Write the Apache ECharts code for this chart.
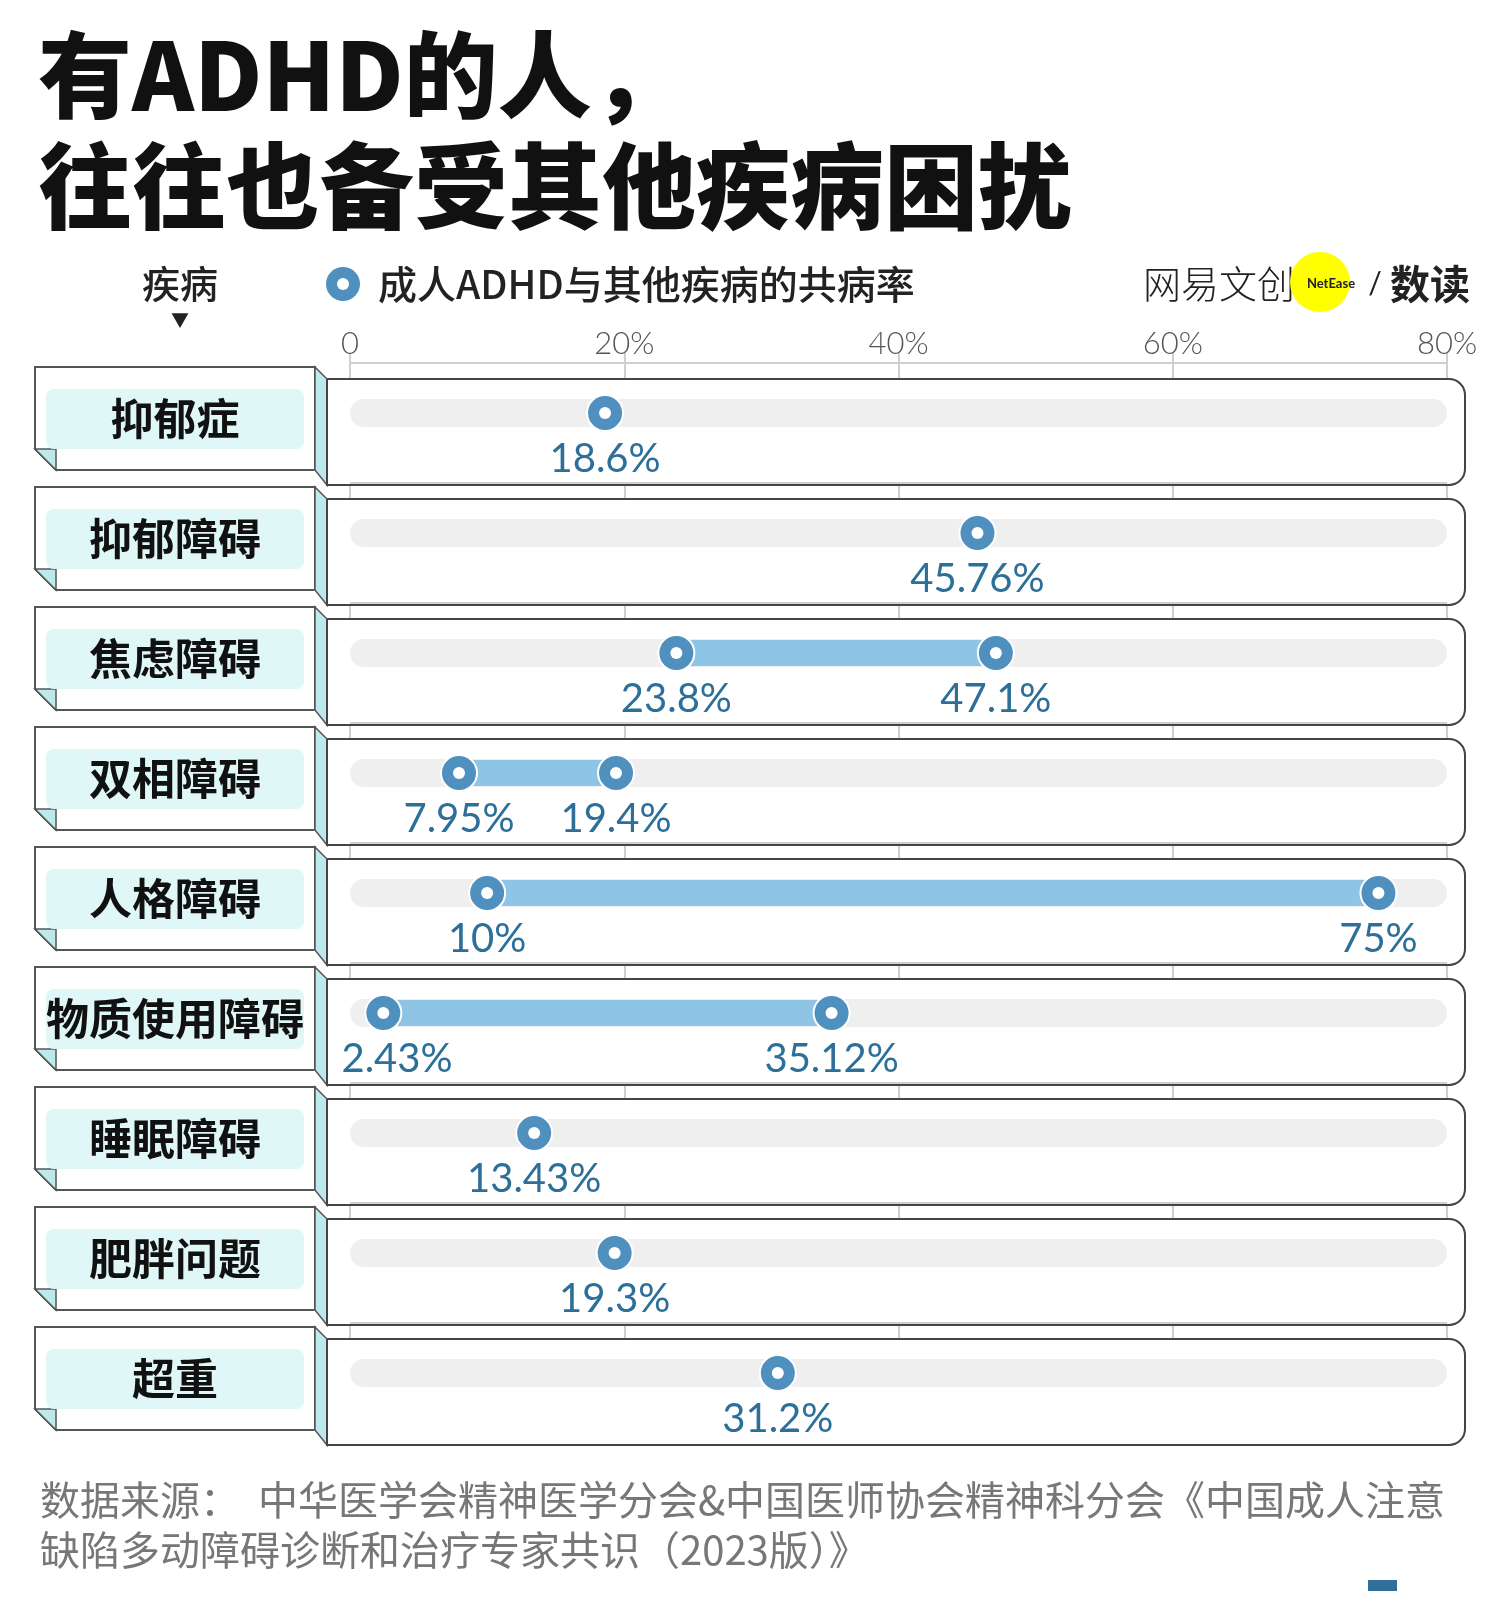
<!DOCTYPE html>
<html><head><meta charset="utf-8">
<script src="https://cdn.jsdelivr.net/npm/echarts@6/dist/echarts.min.js"></script>
<style>html,body{margin:0;padding:0;background:#fff}#c{width:1500px;height:1603px}</style>
</head><body><div id="c"></div>
<script>
const categories = ['抑郁症','抑郁障碍','焦虑障碍','双相障碍','人格障碍','物质使用障碍','睡眠障碍','肥胖问题','超重'];
const lowValues  = [18.6, 45.76, 23.8, 7.95, 10, 2.43, 13.43, 19.3, 31.2];
const highValues = [null, null, 47.1, 19.4, 75, 35.12, null, null, null];
const tickLabels = ['0','20%','40%','60%','80%'];

const F = '"Noto Sans CJK SC", "Noto Sans", sans-serif';
const NF = 'Lato, "Noto Sans", sans-serif';
const chart = echarts.init(document.getElementById('c'));

function renderRow(params, api) {
  const i = api.value(0);
  const y0 = api.coord([0, i])[1];
  const x0 = api.coord([0, i])[0];
  const x80 = api.coord([80, i])[0];
  const lo = lowValues[i], hi = highValues[i];
  const stroke = '#555';
  const ch = [];
  ch.push({type:'line', shape:{x1:x0, y1:y0-50, x2:x80, y2:y0-50}, style:{stroke:'#cfcfcf', lineWidth:2}});
  ch.push({type:'polygon', shape:{points:[[35,y0-46],[315,y0-46],[315,y0+57],[56,y0+57],[35,y0+36]]}, style:{fill:'#fff', stroke, lineWidth:2}});
  ch.push({type:'polygon', shape:{points:[[35,y0+36],[56,y0+36],[56,y0+57]]}, style:{fill:'#bde9ec', stroke, lineWidth:1.5}});
  ch.push({type:'polygon', shape:{points:[[315,y0-46],[327,y0-34],[327,y0+72],[315,y0+57]]}, style:{fill:'#bde9ec', stroke, lineWidth:1.5}});
  ch.push({type:'rect', shape:{x:46, y:y0-24, width:258, height:60, r:8}, style:{fill:'#dff7f7'}});
  ch.push({type:'text', style:{x:175, y:y0+6, text:categories[i], fill:'#111', font:'bold 43px '+F, align:'center', verticalAlign:'middle'}});
  ch.push({type:'rect', shape:{x:327, y:y0-34, width:1138, height:106, r:[0,16,16,0]}, style:{fill:'#fff', stroke:'#444', lineWidth:2}});
  ch.push({type:'rect', shape:{x:x0, y:y0-14, width:x80-x0, height:28, r:14}, style:{fill:'#efefef'}});
  const pts = [lo];
  if (hi != null) {
    const a = api.coord([lo, i])[0], b = api.coord([hi, i])[0];
    ch.push({type:'rect', shape:{x:a, y:y0-13, width:b-a, height:26}, style:{fill:'#8ec5e6'}});
    pts.push(hi);
  }
  pts.forEach(v => {
    const x = api.coord([v, i])[0];
    ch.push({type:'circle', shape:{cx:x, cy:y0, r:18}, style:{fill:'#5090bf', stroke:'#fff', lineWidth:2}});
    ch.push({type:'circle', shape:{cx:x, cy:y0, r:6}, style:{fill:'#fff'}});
    ch.push({type:'text', style:{x:Math.max(x, 397), y:y0+46, text:v+'%', fill:'#2c6f99', font:'40px '+NF, align:'center', verticalAlign:'middle'}});
  });
  return {type:'group', children:ch};
}

chart.setOption({
  animation:false,
  grid:{left:350, right:53, top:353, height:1080},
  xAxis:{type:'value', min:0, max:80, interval:20, position:'top',
    axisLine:{show:false}, axisTick:{show:false},
    splitLine:{show:true, lineStyle:{color:'#cfcfcf', width:2}},
    axisLabel:{margin:9, verticalAlign:'middle', color:'#555', fontSize:31, fontFamily:NF, fontWeight:300,
      formatter:(v)=>tickLabels[v/20]}},
  yAxis:{type:'category', data:categories, inverse:true, show:false},
  series:[{type:'custom', renderItem:renderRow, data:categories.map((c,i)=>[i]), encode:{x:[], y:0}, clip:false}],
  graphic:[
    {type:'text', left:38, top:28, style:{text:'有ADHD的人，', font:'900 94px '+F, fill:'#111'}},
    {type:'text', left:38, top:139, style:{text:'往往也备受其他疾病困扰', font:'900 94px '+F, fill:'#111'}},
    {type:'text', x:180, y:284, style:{text:'疾病', font:'500 38px '+F, fill:'#222', align:'center', verticalAlign:'middle'}},
    {type:'text', x:180, y:320, style:{text:'▼', font:'18px '+F, fill:'#222', align:'center', verticalAlign:'middle'}},
    {type:'circle', shape:{cx:343, cy:284, r:17}, style:{fill:'#5090bf'}},
    {type:'circle', shape:{cx:343, cy:284, r:6}, style:{fill:'#fff'}},
    {type:'text', x:378, y:284, style:{text:'成人ADHD与其他疾病的共病率', font:'500 39px '+F, fill:'#222', verticalAlign:'middle'}},
    {type:'text', x:1143, y:284, style:{text:'网易文创', font:'300 38px '+F, fill:'#222', verticalAlign:'middle'}},
    {type:'circle', shape:{cx:1320, cy:282, r:30}, style:{fill:'#ffff00'}},
    {type:'text', x:1331, y:284, style:{text:'NetEase', font:'bold 13px '+NF, fill:'#222', align:'center', verticalAlign:'middle'}},
    {type:'text', x:1375, y:284, style:{text:'/', font:'30px '+NF, fill:'#222', align:'center', verticalAlign:'middle'}},
    {type:'text', x:1390, y:284, style:{text:'数读', font:'bold 40px '+F, fill:'#222', verticalAlign:'middle'}},
    {type:'text', x:40, y:1500, style:{text:'数据来源：  中华医学会精神医学分会&中国医师协会精神科分会《中国成人注意', font:'40px '+F, fill:'#777', verticalAlign:'middle'}},
    {type:'text', x:40, y:1550, style:{text:'缺陷多动障碍诊断和治疗专家共识（2023版）》', font:'40px '+F, fill:'#777', verticalAlign:'middle'}},
    {type:'rect', shape:{x:1368, y:1580, width:29, height:11}, style:{fill:'#2f6f9a'}}
  ]
});
</script></body></html>
